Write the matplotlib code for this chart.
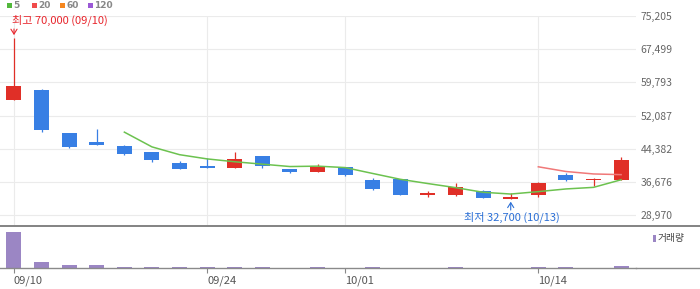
import matplotlib.pyplot as plt
from matplotlib.lines import Line2D
from matplotlib.patches import Rectangle
import numpy as np

plt.rcParams['font.family'] = ['Noto Sans CJK KR', 'DejaVu Sans']

# daily candles (trading-day index 0..22)
opens = [55800, 58050, 48050, 45950, 45050, 43650, 41100, 40400, 40000, 42700, 39700, 39100,
         40150, 37150, 37400, 33750, 33750, 34600, 32700, 33700, 38300, 37150, 37250]
highs = [70000, 58250, 48050, 49000, 45300, 43650, 41550, 42150, 43650, 42700, 39700, 40950,
         40150, 37600, 37400, 34600, 36450, 34850, 34150, 36750, 38800, 37600, 42500]
lows = [55800, 48350, 44650, 45350, 42950, 41400, 39800, 40000, 40000, 40000, 38850, 39100,
        38150, 34900, 33750, 33300, 33500, 33000, 32700, 33300, 37000, 35850, 37250]
closes = [59000, 48850, 44900, 45350, 43250, 41850, 39800, 40000, 42050, 40450, 39100, 40250,
          38400, 35150, 33750, 34150, 35550, 33000, 33100, 36550, 37250, 37400, 41800]
volumes = [1000, 175, 92, 92, 28, 28, 28, 28, 28, 28, 3, 28,
           3, 28, 3, 3, 28, 3, 3, 28, 28, 3, 64]

# moving averages as drawn (5-day from index 4, 20-day from index 19)
ma5 = [48260, 44840, 43030, 42050, 41390, 40830, 40280, 40370, 40040, 38670,
       37320, 36330, 35390, 34310, 33900, 34460, 35080, 35450, 37210]
ma20 = [40220, 39130, 38560, 38400]

date_ticks = [0, 7, 12, 19]
date_labels = ['09/10', '09/24', '10/01', '10/14']
price_ticks = [28970, 36676, 44382, 52087, 59793, 67499, 75205]

legend_names = ['5', '20', '60', '120']
legend_colors = ['#52b83c', '#f04b4b', '#f5871f', '#9b59d6']

UP = '#e02f27'
DOWN = '#387fe4'
W, H = 700, 289


def fx(x):
    return x / W


def fy(y):
    return 1 - y / H


fig = plt.figure(figsize=(W / 100, H / 100), dpi=100)
ax = fig.add_axes([0, fy(225), fx(636), 209 / H])
axv = fig.add_axes([0, fy(268), fx(636), 43 / H])

n = len(closes)
idx = np.arange(n)
o = np.array(opens)
c = np.array(closes)
colors = [UP if cc >= oo else DOWN for oo, cc in zip(o, c)]
bottom = np.minimum(o, c)
height = np.maximum(np.abs(c - o), 300)

ax.vlines(idx, lows, highs, colors=colors, lw=0.9, zorder=2)
ax.bar(idx, height, bottom=bottom, width=0.544, color=colors, lw=0, zorder=3)
ax.plot(idx[4:], ma5, color='#6cc24f', lw=1.1, zorder=4)
ax.plot(idx[19:], ma20, color='#f07878', lw=1.1, zorder=4)

ax.set_xlim(-0.507, 22.54)
ax.set_ylim(26717, 75205)
ax.set_xticks(date_ticks)
ax.set_yticks(price_ticks)
ax.set_yticklabels([f'{v:,}' for v in price_ticks])
ax.yaxis.tick_right()
ax.tick_params(axis='y', length=0, pad=3.4, labelsize=7.5, labelcolor='#666666')
ax.tick_params(axis='x', length=0, labelbottom=False)
ax.grid(True, color='#ebebeb', lw=0.8, zorder=0)
for s in ax.spines.values():
    s.set_visible(False)

# high / low markers
hi = int(np.argmax(highs))
lo = int(np.argmin(lows))
ax.annotate(f'최고 {highs[hi]:,} (09/10)', xy=(hi, highs[hi]), xytext=(-1.5, 13.2),
            textcoords='offset points', ha='left', va='center', fontsize=8,
            color='#e8262d', annotation_clip=False)
ax.annotate('', xy=(hi, highs[hi]), xytext=(0, 6.8), textcoords='offset points',
            arrowprops=dict(arrowstyle='->,head_length=0.35,head_width=0.22', color='#e8262d',
                            lw=0.8, shrinkA=0, shrinkB=2.4), annotation_clip=False)
ax.annotate(f'최저 {lows[lo]:,} (10/13)', xy=(lo, lows[lo]), xytext=(0.5, -13.2),
            textcoords='offset points', ha='center', va='center', fontsize=8,
            color='#2b6fd6', annotation_clip=False)
ax.annotate('', xy=(lo, lows[lo]), xytext=(0, -7.8), textcoords='offset points',
            arrowprops=dict(arrowstyle='->,head_length=0.35,head_width=0.22', color='#2b6fd6',
                            lw=0.8, shrinkA=0, shrinkB=1.8), annotation_clip=False)

# volume panel
axv.bar(idx, volumes, width=0.544, color='#9b86c4', lw=0)
axv.set_xlim(-0.507, 22.54)
axv.set_ylim(0, max(volumes) * 43 / 36)
axv.set_yticks([])
axv.set_xticks(date_ticks)
axv.set_xticklabels(date_labels)
for lab in axv.get_xticklabels():
    lab.set_horizontalalignment('left')
axv.tick_params(axis='x', length=3.8, width=0.8, color='#888888', pad=1.5,
                labelsize=8, labelcolor='#555555')
for name, s in axv.spines.items():
    s.set_visible(name == 'bottom')
axv.spines['bottom'].set_color('#8a8a8a')
axv.spines['bottom'].set_linewidth(1.0)

# panel separator lines across the full width
fig.add_artist(Line2D([0, 1], [fy(225.5), fy(225.5)], color='#7a7a7a', lw=1.3))
fig.add_artist(Line2D([fx(636), 1], [fy(268), fy(268)], color='#8a8a8a', lw=1.0))

# top legend
lx = [7, 32, 60, 88]
for x, name, col in zip(lx, legend_names, legend_colors):
    fig.add_artist(Rectangle((fx(x), fy(8)), 5 / W, 5 / H, color=col, lw=0))
    fig.text(fx(x + 6.5), fy(5.6), name, fontsize=6.5, fontweight='bold',
             color='#888888', va='center', ha='left', family='DejaVu Sans')

# volume legend
fig.add_artist(Rectangle((fx(653), fy(241.5)), 3 / W, 7 / H, color='#9b86c4', lw=0))
fig.text(fx(657.5), fy(238), '거래량', fontsize=7, color='#444444', va='center', ha='left')

fig.savefig('out.png', dpi=100)
